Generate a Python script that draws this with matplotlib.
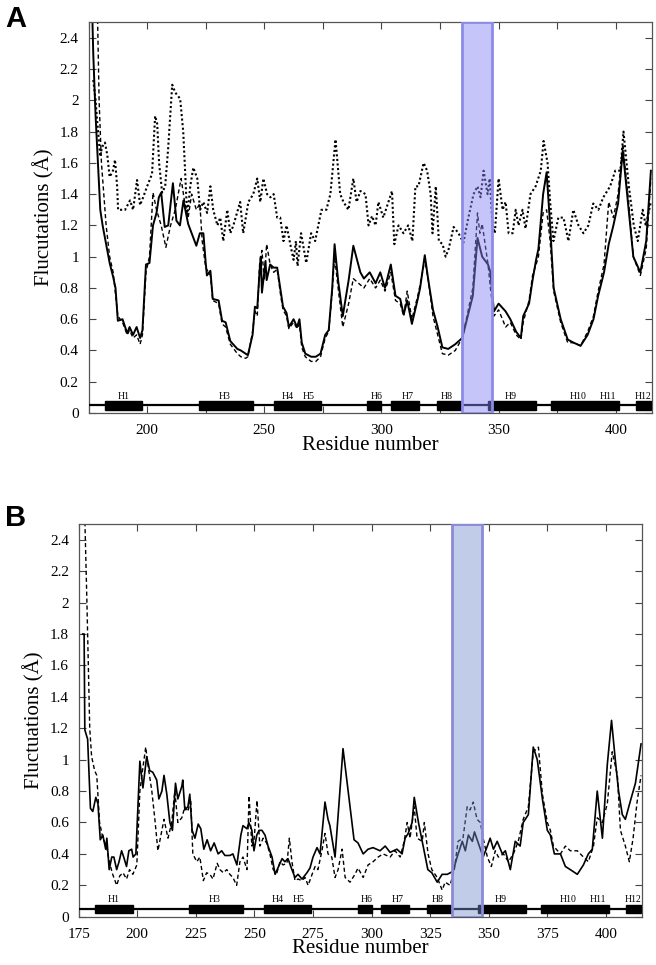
import numpy as np
import matplotlib
matplotlib.use('Agg')
import matplotlib.pyplot as plt
from matplotlib.patches import Rectangle
from matplotlib.ticker import MultipleLocator, FormatStrFormatter

plt.rcParams['font.family'] = ['Liberation Serif', 'DejaVu Serif']

# Panel A: (residue, fluctuation)
solid_a = [(176, 2.9), (177, 2.3), (178, 1.9), (180, 1.3), (181, 1.2), (184, 0.96), (185.5, 0.87),
           (186.5, 0.8), (187.5, 0.59), (189.5, 0.6), (191.5, 0.51), (192.5, 0.55), (194, 0.5),
           (195.5, 0.55), (197, 0.48), (198, 0.53), (199.5, 0.95), (201, 0.96), (202.5, 1.2),
           (204, 1.28), (205, 1.38), (206, 1.41), (207.5, 1.19), (209, 1.2), (211, 1.47),
           (212.5, 1.23), (214, 1.2), (215.5, 1.36), (217.5, 1.21), (219, 1.15), (221, 1.07),
           (222.5, 1.15), (224, 1.15), (225, 0.96), (225.5, 0.88), (227, 0.91), (228, 0.73),
           (230.5, 0.72), (232, 0.59), (233.5, 0.58), (235.5, 0.46), (238.5, 0.41), (240, 0.4),
           (242, 0.38), (243, 0.37), (245, 0.5), (246, 0.68), (247, 0.67), (248, 0.91),
           (248.5, 1.0), (249, 0.77), (250.5, 0.97), (251, 0.85), (252.5, 0.95), (254, 0.93),
           (255.5, 0.93), (257, 0.78), (258, 0.68), (259.5, 0.64), (260.5, 0.55), (262.5, 0.6),
           (264, 0.55), (265, 0.6), (266, 0.45), (267.5, 0.38), (270, 0.36), (272, 0.36),
           (274, 0.38), (276, 0.5), (277.5, 0.53), (279, 0.8), (280, 1.08), (281.5, 0.85),
           (283.5, 0.62), (286, 0.85), (288, 1.07), (291, 0.9), (292.5, 0.86), (295, 0.9),
           (297.5, 0.83), (299.5, 0.9), (301.5, 0.8), (304, 0.95), (306, 0.75), (308, 0.73),
           (309.5, 0.63), (311, 0.72), (313, 0.57), (315.5, 0.73), (316.5, 0.8), (318.5, 1.01),
           (320, 0.85), (322, 0.66), (324, 0.55), (326, 0.42), (328.5, 0.41), (331.5, 0.44),
           (334.5, 0.48), (336.5, 0.6), (339, 0.75), (341, 1.12), (343, 1.0), (345.5, 0.95),
           (346.5, 0.9), (348, 0.65), (350, 0.7), (353, 0.65), (355, 0.6), (357.5, 0.52),
           (359.5, 0.48), (360.5, 0.62), (363, 0.7), (364.5, 0.85), (366, 0.98), (367, 1.05),
           (369, 1.4), (370.5, 1.54), (372, 1.2), (373.5, 0.8), (376.5, 0.6), (379.5, 0.47),
           (382, 0.45), (385, 0.43), (388, 0.5), (390.5, 0.6), (392.5, 0.75), (395, 0.9),
           (397, 1.08), (399, 1.2), (401, 1.34), (403, 1.68), (405.5, 1.3), (407.5, 1.0),
           (410.5, 0.9), (413, 1.1), (415, 1.55)]

dashed_a = [(178.5, 2.8), (179.5, 2.0), (180.5, 1.6), (181.5, 1.4), (182.5, 1.2), (184, 1.0),
            (185.5, 0.9), (187.5, 0.62), (189.5, 0.58), (191.5, 0.5), (192.5, 0.53), (194, 0.48),
            (195.5, 0.5), (197, 0.44), (198, 0.5), (199.5, 0.9), (201, 1.0), (202.5, 1.41),
            (204, 1.3), (206, 1.2), (208, 1.06), (210, 1.2), (212, 1.3), (214.5, 1.5),
            (216, 1.35), (217.5, 1.25), (219, 1.4), (221, 1.3), (222.5, 1.34), (223.5, 1.1),
            (225, 0.93), (227, 0.88), (228, 0.72), (230.5, 0.7), (232, 0.57), (233.5, 0.55),
            (235.5, 0.44), (238.5, 0.38), (240, 0.36), (242, 0.35), (243, 0.36), (245, 0.52),
            (246, 0.65), (247, 0.62), (248, 0.95), (249, 1.04), (250, 0.85), (251, 1.08),
            (252.5, 0.95), (254, 0.9), (255.5, 0.92), (257, 0.75), (258, 0.66), (259.5, 0.62),
            (260.5, 0.54), (262.5, 0.58), (264, 0.54), (265, 0.57), (266, 0.42), (267.5, 0.36),
            (270, 0.33), (272, 0.33), (274, 0.36), (276, 0.48), (277.5, 0.52), (279, 0.78),
            (280, 1.0), (281.5, 0.8), (283.5, 0.55), (286, 0.7), (288, 0.86), (291, 0.82),
            (292.5, 0.8), (295, 0.86), (297.5, 0.8), (299.5, 0.85), (301.5, 0.78), (304, 0.9),
            (306, 0.72), (308, 0.7), (309.5, 0.62), (311, 0.78), (313, 0.6), (315.5, 0.75),
            (316.5, 0.82), (318.5, 0.98), (320, 0.85), (322, 0.62), (324, 0.5), (326, 0.38),
            (328.5, 0.37), (331.5, 0.4), (334.5, 0.48), (336.5, 0.62), (339, 0.8), (341, 1.28),
            (342, 1.15), (343, 1.21), (345.5, 0.95), (346.5, 0.8), (348, 0.62), (350, 0.66),
            (353, 0.55), (355, 0.58), (357.5, 0.5), (359.5, 0.47), (360.5, 0.58), (363, 0.72),
            (364.5, 0.88), (366, 0.95), (367, 1.0), (369, 1.28), (370.5, 1.3), (372, 1.1),
            (373.5, 0.78), (376.5, 0.58), (379.5, 0.45), (382, 0.45), (385, 0.43), (388, 0.52),
            (390.5, 0.62), (392.5, 0.78), (395, 0.95), (397, 1.35), (399, 1.25), (401, 1.4),
            (403, 1.72), (405.5, 1.35), (407.5, 1.0), (410.5, 0.88), (413, 1.05), (415, 1.5)]

dotted_a = [(177, 2.13), (178, 2.0), (178.5, 1.9), (180, 1.64), (180.7, 1.7), (182, 1.73),
            (183, 1.65), (184, 1.51), (185.4, 1.55), (186.3, 1.62), (187.2, 1.45), (187.6, 1.3),
            (189.3, 1.3), (190.6, 1.3), (192.7, 1.36), (194, 1.3), (195.7, 1.49), (197, 1.33),
            (198.3, 1.38), (200, 1.45), (202.1, 1.53), (203.4, 1.9), (204.3, 1.85), (205.1, 1.6),
            (206.4, 1.41), (207.7, 1.45), (209, 1.7), (210.7, 2.1), (212, 2.05), (214.1, 2.01),
            (215.4, 1.8), (216.2, 1.55), (217.1, 1.25), (218.4, 1.45), (219.7, 1.57),
            (221.4, 1.5), (222.6, 1.3), (224, 1.35), (225.6, 1.28), (227, 1.45), (228.2, 1.3),
            (230, 1.2), (231.2, 1.25), (232.5, 1.1), (234.2, 1.3), (235.5, 1.15), (236.8, 1.2),
            (239.7, 1.35), (241, 1.15), (243.2, 1.35), (245.3, 1.4), (247, 1.5), (248.3, 1.35),
            (249.6, 1.5), (251.2, 1.4), (252.6, 1.38), (254, 1.4), (255.5, 1.25), (256.8, 1.25),
            (258.2, 1.1), (259.5, 1.2), (261.5, 1.05), (262.5, 0.98), (263.5, 1.1), (264.2, 0.94),
            (265.7, 1.15), (267.9, 0.96), (270, 1.15), (271.7, 1.1), (274.4, 1.3), (276.5, 1.3),
            (278.2, 1.4), (280.4, 1.75), (282.4, 1.4), (283.8, 1.35), (285.9, 1.3), (288, 1.5),
            (289.4, 1.35), (291, 1.42), (293.2, 1.4), (294.5, 1.2), (296, 1.26), (297.5, 1.2),
            (298.7, 1.35), (300.8, 1.25), (303, 1.35), (304.5, 1.42), (305.5, 1.08),
            (307.3, 1.2), (309.4, 1.15), (311.4, 1.2), (313.2, 1.1), (314.5, 1.45), (315.8, 1.45),
            (318, 1.6), (319.5, 1.55), (321, 1.4), (321.8, 1.15), (323.2, 1.45), (324.5, 1.1),
            (326.1, 1.08), (327.4, 1.0), (328.7, 1.05), (330.8, 1.19), (332.9, 1.15),
            (335, 1.09), (337.1, 1.25), (339.3, 1.4), (341, 1.45), (342.3, 1.38), (343.6, 1.55),
            (345.3, 1.4), (346.2, 1.5), (347.4, 1.2), (348.4, 1.15), (350, 1.5), (351.7, 1.3),
            (353, 1.35), (354.3, 1.15), (356, 1.15), (357.3, 1.3), (358.5, 1.2), (360.2, 1.3),
            (361.5, 1.18), (363.6, 1.4), (365.8, 1.45), (368, 1.55), (369.2, 1.74),
            (370.9, 1.6), (372, 1.35), (373.4, 1.1), (375.5, 1.25), (377.7, 1.25), (379.8, 1.1),
            (381.9, 1.3), (384.1, 1.2), (386.2, 1.15), (388.3, 1.2), (390.4, 1.34),
            (392.6, 1.3), (394.7, 1.38), (397.6, 1.45), (399.8, 1.55), (402, 1.55),
            (403.3, 1.8), (405.6, 1.45), (407.7, 1.2), (409.4, 1.1), (411.5, 1.3),
            (412.8, 1.2), (415, 1.35)]

# Panel B
solid_b = [(176.7, 1.8), (177.3, 1.8), (177.6, 1.19), (178.8, 1.13), (180, 0.69), (181, 0.67),
           (182.3, 0.76), (183.2, 0.72), (184.2, 0.49), (185.3, 0.52), (186.5, 0.43), (187, 0.5),
           (188, 0.3), (189.1, 0.38), (190, 0.38), (191.2, 0.3), (192.2, 0.35), (193.3, 0.42),
           (194.2, 0.38), (195.4, 0.32), (196.4, 0.42), (197.6, 0.43), (198.2, 0.38),
           (199.4, 0.4), (201.1, 0.99), (202.4, 0.82), (204, 1.02), (205.3, 0.93), (206.6, 0.92),
           (208.3, 0.87), (209.2, 0.75), (210.5, 0.8), (211.4, 0.9), (212.6, 0.78), (213.9, 0.6),
           (215, 0.55), (216.3, 0.85), (217.3, 0.75), (219, 0.83), (219.4, 0.87), (220.3, 0.68),
           (221.6, 0.7), (222.4, 0.78), (223.4, 0.55), (224.6, 0.5), (226, 0.59), (227.1, 0.56),
           (228.4, 0.43), (229.8, 0.49), (231.3, 0.42), (232.8, 0.47), (234.5, 0.4), (236, 0.42),
           (237.4, 0.39), (239.5, 0.39), (240.8, 0.4), (242.5, 0.33), (244.2, 0.52),
           (245.1, 0.58), (246.8, 0.56), (247.6, 0.6), (248.9, 0.55), (249.8, 0.42), (251, 0.52),
           (252, 0.55), (253.2, 0.55), (254.5, 0.52), (255.8, 0.45), (257.5, 0.38),
           (258.8, 0.27), (260, 0.31), (261.8, 0.37), (263, 0.35), (264.3, 0.37), (266, 0.3),
           (267.3, 0.25), (268.6, 0.27), (270.3, 0.24), (272.4, 0.28), (273.7, 0.31),
           (275, 0.38), (276.7, 0.44), (278, 0.4), (280.1, 0.73), (281.4, 0.62), (282.2, 0.58),
           (284.4, 0.38), (287.8, 1.07), (290, 0.8), (292.5, 0.49), (294.2, 0.47), (296.4, 0.4),
           (298.5, 0.43), (300.6, 0.44), (303.6, 0.42), (305.8, 0.45), (307.9, 0.41),
           (310.8, 0.43), (313, 0.4), (314.3, 0.5), (315.6, 0.53), (317.3, 0.6), (318.2, 0.76),
           (320, 0.6), (322, 0.45), (324, 0.3), (325.7, 0.28), (328, 0.22), (330.1, 0.27),
           (332.3, 0.27), (334.8, 0.29), (336.5, 0.38), (338.7, 0.48), (340, 0.42),
           (341.3, 0.52), (343, 0.48), (343.9, 0.54), (345.5, 0.47), (347.6, 0.38),
           (349.4, 0.45), (350.6, 0.5), (352, 0.43), (353.6, 0.48), (355.8, 0.4), (357.1, 0.42),
           (359.2, 0.3), (361.3, 0.48), (363.4, 0.45), (364.7, 0.6), (366.9, 0.65), (369, 1.08),
           (370.7, 1.0), (372.9, 0.75), (375, 0.55), (376.3, 0.52), (378, 0.4), (380.6, 0.4),
           (382.7, 0.32), (384.8, 0.3), (387.8, 0.27), (390.4, 0.33), (392.5, 0.4),
           (394.2, 0.43), (396.3, 0.8), (398.5, 0.5), (400.6, 0.97), (402.4, 1.25), (404, 1.0),
           (405.4, 0.8), (407, 0.65), (408.3, 0.62), (410.5, 0.74), (412.6, 0.85), (415, 1.1)]

dashed_b = [(177.5, 2.6), (178.5, 2.0), (179.7, 1.2), (180.5, 1.02), (181.8, 0.93), (182.7, 0.9),
            (183.9, 0.6), (185.3, 0.5), (186.8, 0.45), (188.2, 0.34), (189.5, 0.27), (191.2, 0.2),
            (192.5, 0.26), (193.9, 0.28), (195.4, 0.24), (196.7, 0.3), (198.1, 0.27),
            (199.8, 0.33), (201.1, 0.8), (202.4, 0.95), (203.6, 1.08), (204.5, 0.97),
            (206.2, 0.8), (207.5, 0.62), (208.8, 0.42), (210.5, 0.55), (211.4, 0.62),
            (213.1, 0.5), (214.7, 0.6), (216, 0.8), (217.3, 0.6), (219, 0.63), (220.3, 0.7),
            (221.6, 0.67), (222.8, 0.75), (223.7, 0.4), (225.4, 0.35), (226.7, 0.38),
            (228.2, 0.23), (229.6, 0.28), (231, 0.27), (232.3, 0.24), (234.1, 0.34),
            (235.3, 0.3), (236.7, 0.28), (238.2, 0.3), (239.5, 0.27), (240.8, 0.25),
            (242.4, 0.2), (243.8, 0.35), (245.1, 0.38), (246.8, 0.3), (247.7, 0.77),
            (248.9, 0.45), (249.9, 0.5), (251.1, 0.74), (252.3, 0.45), (253.7, 0.5),
            (255.2, 0.47), (256.6, 0.4), (258, 0.3), (259.6, 0.28), (260.9, 0.35), (262.2, 0.33),
            (263.9, 0.34), (264.9, 0.5), (266, 0.35), (267.3, 0.23), (268.6, 0.24),
            (270.3, 0.23), (271.6, 0.25), (272.9, 0.2), (274.6, 0.27), (275.9, 0.32),
            (277.1, 0.3), (278.8, 0.42), (280.1, 0.53), (281.4, 0.4), (283, 0.38), (284.4, 0.25),
            (285.7, 0.3), (287.4, 0.43), (288.7, 0.25), (290.8, 0.22), (292.9, 0.27),
            (294.2, 0.31), (296.4, 0.25), (298.5, 0.33), (300.6, 0.35), (302.8, 0.38),
            (304.9, 0.4), (307.9, 0.38), (310, 0.42), (312.2, 0.38), (313.9, 0.48), (315.2, 0.6),
            (316.4, 0.5), (318.2, 0.7), (319.4, 0.5), (321.6, 0.48), (322.5, 0.6), (324.1, 0.4),
            (325.7, 0.3), (328, 0.25), (330.1, 0.17), (331.4, 0.22), (333.5, 0.2), (335.3, 0.3),
            (336.9, 0.48), (339, 0.5), (340.8, 0.7), (342, 0.68), (343.4, 0.73), (345, 0.62),
            (346.4, 0.6), (347.6, 0.5), (349.4, 0.38), (351.1, 0.32), (352.8, 0.42),
            (354.1, 0.38), (356.3, 0.4), (358.4, 0.35), (360.5, 0.4), (362.6, 0.48),
            (364.7, 0.62), (366.9, 0.7), (369, 1.05), (371.2, 1.08), (372.9, 0.78), (375, 0.6),
            (376.3, 0.55), (377.6, 0.45), (380.6, 0.4), (382.7, 0.45), (384.8, 0.42),
            (387.8, 0.42), (390.4, 0.38), (392.5, 0.35), (394.7, 0.45), (396.3, 0.63),
            (398.5, 0.6), (400.6, 0.72), (402.7, 1.05), (404.9, 0.9), (406.2, 0.55),
            (408.3, 0.45), (410, 0.35), (411.6, 0.5), (413.3, 0.73), (415, 0.9)]

# secondary structure (helices) and highlighted region
helix_start = [182, 222, 254, 294, 304, 323.5, 345.5, 372.5, 408.5]
helix_end = [198, 245, 274, 300, 316, 334, 366, 401.5, 415]
helix_labels = ['H1', 'H3', 'H4', 'H5', 'H6', 'H7', 'H8', 'H9', 'H10', 'H11', 'H12']
helix_label_x = [190, 233, 260, 269, 298, 311, 328, 355, 384, 396.5, 411.5]
region = (334.5, 347)


def draw_panel(ax, series, styles, box_face, box_edge, xlabel_step):
    for data, st in zip(series, styles):
        arr = np.array(data)
        ax.plot(arr[:, 0], arr[:, 1], color='black', **st)
    ax.plot([175, 416], [0.05, 0.05], color='black', lw=1.6, zorder=3)
    for s, e in zip(helix_start, helix_end):
        ax.add_patch(Rectangle((s, 0.022), e - s, 0.055, facecolor='black',
                               edgecolor='black', zorder=4))
    for lab, lx in zip(helix_labels, helix_label_x):
        ax.text(lx, 0.078, lab, fontsize=7, ha='center', va='bottom', zorder=5)
    ax.add_patch(Rectangle((region[0], 0), region[1] - region[0], 2.5,
                           facecolor=box_face, edgecolor=box_edge, lw=2, zorder=6))
    ax.set_xlim(175, 415.5)
    ax.set_ylim(0, 2.5)
    ax.xaxis.set_major_locator(MultipleLocator(25))
    ax.yaxis.set_major_locator(MultipleLocator(0.2))
    ax.yaxis.set_major_formatter(FormatStrFormatter('%g'))
    if xlabel_step == 50:
        ax.set_xticks(np.arange(175, 416, 25))
        ax.set_xticklabels(['' if (t % 50) else str(t) for t in range(175, 416, 25)])
    ax.tick_params(direction='in', top=True, right=True, length=5, width=0.8,
                   colors='#444444', labelcolor='black', labelsize=11)
    ax.tick_params(axis='x', pad=8)
    ax.tick_params(axis='y', pad=7)
    for sp in ax.spines.values():
        sp.set_color('#555555')
        sp.set_linewidth(0.9)
    ax.set_xlabel('Residue number', fontsize=15, labelpad=-1)


fig = plt.figure(figsize=(6.56, 9.65), dpi=100)
ax1 = fig.add_axes([0.135, 0.572, 0.859, 0.405])
ax2 = fig.add_axes([0.120, 0.050, 0.859, 0.407])

draw_panel(ax1, [solid_a, dashed_a, dotted_a],
           [dict(lw=1.4, ls='-'), dict(lw=1.0, ls=(0, (3, 2))), dict(lw=1.5, ls=(0, (1, 1.2)))],
           (0.52, 0.52, 0.96, 0.47), '#8c8ce8', 50)
ax1.set_ylabel('Flucutations (\u00c5)', fontsize=15, labelpad=4)

draw_panel(ax2, [solid_b, dashed_b],
           [dict(lw=1.2, ls='-'), dict(lw=1.0, ls=(0, (3, 2)))],
           (0.46, 0.56, 0.80, 0.45), '#8a8ad8', 25)
ax2.set_ylabel('Fluctuations (\u00c5)', fontsize=15, labelpad=4)

fig.text(0.008, 0.995, 'A', fontsize=21, fontweight='bold', family='Liberation Sans',
         va='top', ha='left')
fig.text(0.008, 0.478, 'B', fontsize=21, fontweight='bold', family='Liberation Sans',
         va='top', ha='left')

fig.savefig('out.png', dpi=100)
